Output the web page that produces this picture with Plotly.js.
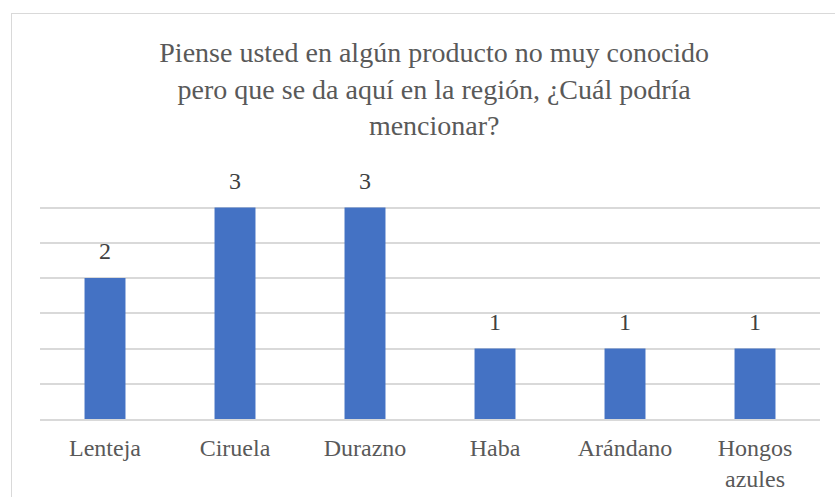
<!DOCTYPE html>
<html><head><meta charset="utf-8">
<script src="https://cdn.plot.ly/plotly-3.0.1.min.js"></script>
<style>
html,body{margin:0;padding:0;background:#fff;}
#frame{position:absolute;left:11px;top:13px;width:840px;height:500px;border:1.5px solid #d9d9d9;box-sizing:border-box;}
#chart{position:absolute;left:0;top:0;width:835px;height:497px;}
</style></head>
<body>
<div id="frame"></div>
<div id="chart"></div>
<script>
var categories = ["Lenteja", "Ciruela", "Durazno", "Haba", "Ar\u00e1ndano", "Hongos<br>azules"];
var values = [2, 3, 3, 1, 1, 1];
var titleText = "Piense usted en alg\u00fan producto no muy conocido<br>pero que se da aqu\u00ed en la regi\u00f3n, \u00bfCu\u00e1l podr\u00eda<br>mencionar?";

var serif = "Liberation Serif";
var trace = {
  type: "bar",
  x: categories,
  y: values,
  marker: {color: "#4472c4"},
  hoverinfo: "none"
};
var annotations = categories.map(function(c, i){
  return {x: c, y: values[i], xref: "x", yref: "y", text: String(values[i]),
    showarrow: false, yanchor: "bottom", yshift: 12,
    font: {family: serif, size: 24, color: "#404040"}};
});
var layout = {
  width: 835, height: 497,
  font: {family: serif, color: "#595959"},
  margin: {l: 40, r: 15, t: 172, b: 78},
  paper_bgcolor: "rgba(0,0,0,0)",
  plot_bgcolor: "rgba(0,0,0,0)",
  showlegend: false,
  bargap: 0.685,
  title: {text: titleText, x: 0.52, xref: "container", xanchor: "center",
    y: 0.875, yref: "container", yanchor: "top",
    font: {family: serif, size: 28, color: "#595959"}},
  xaxis: {type: "category", showgrid: false, zeroline: false, showline: true,
    linecolor: "#d9d9d9", linewidth: 1.5, ticks: "",
    tickfont: {family: serif, size: 24, color: "#595959"}, ticklabelstandoff: 6},
  yaxis: {range: [0, 3.505], dtick: 0.5, showgrid: true, gridcolor: "#d9d9d9",
    gridwidth: 1.5, showticklabels: false, zeroline: false, ticks: ""},
  annotations: annotations
};
Plotly.newPlot("chart", [trace], layout, {displayModeBar: false});
</script>
</body></html>
